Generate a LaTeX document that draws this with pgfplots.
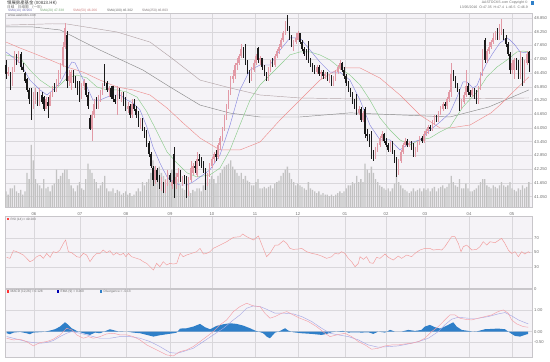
\documentclass[border=0pt]{standalone}
\usepackage{pgfplots}
\pgfplotsset{compat=1.18}
\usepackage{pgfplotstable}
\usepackage{fontspec}
\setmainfont{Liberation Sans}
\newfontfamily\cjk{Noto Sans CJK TC}
\definecolor{bgc}{HTML}{F5F3F7}
\definecolor{gridc}{HTML}{D9D7DB}
\definecolor{framec}{HTML}{C8C6CA}
\definecolor{upc}{HTML}{E29AA6}
\definecolor{dnc}{HTML}{1A1A1A}
\definecolor{volc}{HTML}{C2C2C2}
\definecolor{smaA}{HTML}{8A8AE0}
\definecolor{smaB}{HTML}{8CCC8C}
\definecolor{smaC}{HTML}{EE9090}
\definecolor{smaD}{HTML}{8C8C8C}
\definecolor{smaE}{HTML}{B4A6A8}
\definecolor{rsic}{HTML}{F29A9A}
\definecolor{macdc}{HTML}{F4A0A8}
\definecolor{sigc}{HTML}{A8A8E4}
\definecolor{divc}{HTML}{2F7FC8}
\definecolor{labc}{HTML}{6E6E6E}

\pgfplotstableread{
i o h l c v
1 46.4 46.7 46.3 46.5 8
3 45.9 46.7 45.9 46.6 12
4 46.6 47.4 46.5 47.1 14
6 47.0 47.4 46.9 47.25 9
13 45.0 45.6 44.9 45.4 30
14 45.4 45.8 45.1 45.5 18
16 45.1 45.8 45.0 45.6 14
19 44.9 45.4 44.9 45.3 12
21 45.0 45.6 45.0 45.5 10
22 45.5 45.9 45.4 45.8 14
24 45.7 46.2 45.6 46.1 24
25 46.1 46.6 45.9 46.4 18
26 46.4 46.9 46.2 46.8 20
27 46.8 47.8 46.7 47.6 22
28 47.6 48.65 47.5 48.4 24
30 46.1 46.6 45.9 46.3 18
31 46.0 46.6 45.7 46.5 14
36 45.3 46.0 45.3 45.9 12
37 45.9 46.2 45.7 46.1 11
41 44.0 44.8 43.5 44.6 22
42 44.6 45.3 44.5 45.1 18
44 45.0 45.5 44.9 45.4 12
45 45.4 45.7 45.2 45.6 14
46 45.6 46.0 45.5 45.9 16
49 45.7 45.9 45.4 45.8 10
53 44.9 45.9 44.6 45.6 11
55 45.4 45.6 45.2 45.5 8
58 44.9 45.2 44.7 45.0 8
60 44.6 45.3 44.5 45.1 7
64 44.3 44.5 44.0 44.4 10
71 41.8 42.4 41.6 42.2 26
74 41.5 41.9 41.3 41.7 22
76 41.3 41.8 41.2 41.7 18
77 41.7 42.2 41.5 42.0 22
79 41.5 41.8 41.4 41.7 24
81 41.6 42.1 41.4 41.9 22
82 41.9 42.3 41.7 42.1 18
84 41.7 41.95 41.5 41.9 12
87 41.2 41.9 41.1 41.8 10
88 41.8 42.6 41.7 42.3 9
89 42.1 42.5 42.0 42.4 11
91 42.0 43.0 41.9 42.7 12
96 41.6 42.1 41.5 42.0 16
97 42.0 42.5 41.9 42.4 18
98 42.4 42.8 42.3 42.7 20
99 42.7 43.0 42.5 42.9 18
101 42.8 43.4 42.7 43.3 20
102 43.3 43.7 43.1 43.6 22
103 43.6 44.1 43.5 44.0 24
104 44.0 44.6 43.9 44.5 26
105 44.5 45.1 44.4 45.0 27
106 45.0 45.7 44.9 45.6 28
107 45.6 46.3 45.5 46.2 30
108 46.2 46.6 46.0 46.3 26
109 46.3 46.9 46.2 46.8 24
110 46.8 47.1 46.6 46.9 22
111 46.9 47.3 46.8 47.2 20
112 47.2 47.7 47.1 47.5 22
117 46.2 46.7 46.1 46.6 14
118 46.6 47.0 46.5 46.9 14
119 46.9 47.3 46.8 47.2 16
121 47.0 47.2 46.8 47.1 12
125 46.2 46.7 46.1 46.6 13
126 46.6 47.0 46.5 46.9 14
128 46.8 47.3 46.7 47.2 15
129 47.2 47.5 47.1 47.4 16
130 47.4 47.7 47.3 47.6 17
131 47.6 48.0 47.5 47.9 20
132 47.9 48.3 47.8 48.2 22
133 48.2 48.7 48.1 48.6 24
137 47.5 47.9 47.4 47.8 16
138 47.8 48.2 47.7 48.0 14
139 47.9 48.3 47.9 48.2 15
148 46.5 46.8 46.4 46.7 9
150 46.4 46.6 46.2 46.5 8
152 46.3 46.5 46.2 46.4 8
154 46.2 46.4 46.0 46.3 7
156 46.0 46.3 45.9 46.2 7
157 46.2 46.6 46.1 46.5 8
158 46.5 46.8 46.4 46.7 9
159 46.7 47.0 46.6 46.9 10
168 44.7 45.0 44.6 44.9 16
170 44.4 44.8 44.3 44.7 16
176 42.8 43.2 42.7 43.1 18
177 43.1 43.4 43.0 43.3 16
178 43.3 43.7 43.2 43.6 14
179 43.6 43.9 43.5 43.8 13
183 43.1 43.5 43.0 43.4 10
187 42.1 42.7 42.0 42.6 16
188 42.6 43.1 42.5 43.0 14
189 43.0 43.4 42.9 43.3 12
190 43.3 43.6 43.2 43.5 11
192 43.3 43.5 43.2 43.4 9
195 42.9 43.2 42.8 43.1 10
196 43.1 43.5 43.0 43.4 11
197 43.4 43.7 43.3 43.6 12
199 43.5 43.9 43.4 43.8 12
200 43.8 44.0 43.7 43.9 11
201 43.9 44.2 43.8 44.1 12
203 44.0 44.4 43.9 44.3 12
204 44.3 44.6 44.2 44.5 13
206 44.4 44.8 44.3 44.7 12
207 44.7 45.0 44.6 44.9 13
208 44.9 45.2 44.8 45.1 14
210 45.0 45.4 44.9 45.3 13
211 45.3 45.7 45.2 45.6 15
212 45.6 46.9 45.4 46.4 20
217 45.0 45.3 44.9 45.2 12
218 45.2 45.6 45.1 45.5 12
219 45.5 46.6 45.4 45.9 15
222 45.5 45.8 45.4 45.7 10
225 45.2 45.9 45.1 45.8 14
226 45.8 46.5 45.7 46.4 16
227 46.4 47.5 46.3 47.4 18
229 47.0 47.5 46.9 47.4 14
230 47.4 47.8 47.3 47.6 13
231 47.6 47.9 47.5 47.8 12
232 47.8 48.2 47.7 48.0 14
233 48.0 48.3 47.9 48.2 13
235 48.0 48.6 47.9 48.5 14
236 48.2 48.8 48.1 48.7 16
241 46.6 47.0 46.4 46.9 12
242 46.6 47.1 46.2 47.0 11
245 46.3 47.4 46.2 47.1 11
247 46.1 47.0 46.0 46.9 12
248 46.9 47.4 46.8 47.3 13
}\uptab

\pgfplotstableread{
i o h l c v
0 46.8 47.0 46.2 46.4 10
2 46.45 46.5 45.7 45.9 12
5 47.1 47.3 46.8 47.0 10
7 47.3 47.35 46.6 46.7 11
8 46.7 46.9 46.5 46.6 8
9 46.45 46.5 46.0 46.1 10
10 46.2 46.25 45.6 45.7 22
11 45.7 45.8 45.1 45.3 18
12 45.3 45.8 44.4 45.0 40
15 45.5 45.6 45.0 45.1 15
17 45.5 45.6 45.1 45.2 12
18 45.4 45.45 44.8 44.9 18
20 45.2 45.4 44.5 45.0 13
23 45.8 46.0 45.6 45.7 15
29 48.1 48.3 45.8 46.1 24
32 46.5 46.6 46.0 46.1 12
33 46.1 46.3 45.8 46.0 10
34 46.0 46.1 45.5 45.6 14
35 46.0 46.1 45.2 45.3 16
38 46.0 46.0 45.4 45.5 18
39 45.5 45.6 44.9 45.0 28
40 44.5 44.6 43.95 44.0 24
43 45.1 45.4 44.9 45.0 16
47 46.8 46.85 45.9 46.0 20
48 46.0 46.1 45.6 45.7 12
50 45.8 45.9 45.3 45.4 10
51 45.9 45.9 45.2 45.3 12
52 45.3 45.5 45.1 45.2 9
54 45.6 45.8 45.3 45.4 10
56 45.5 45.6 45.0 45.1 9
57 45.4 45.4 44.8 44.9 10
59 45.0 45.1 44.5 44.6 9
61 45.1 45.3 44.8 44.9 8
62 44.9 45.0 44.5 44.6 10
63 44.7 44.8 44.1 44.3 12
65 44.4 44.5 43.9 44.0 16
66 44.0 44.1 43.6 43.8 14
67 43.9 43.95 43.2 43.3 16
68 43.4 43.5 42.8 42.9 18
69 42.9 43.0 42.3 42.4 22
70 42.3 42.4 41.5 41.8 30
72 42.2 42.3 41.7 41.8 20
73 41.9 42.0 41.4 41.5 26
75 41.6 41.7 41.2 41.3 20
78 42.0 42.1 41.7 41.8 20
80 42.9 43.2 41.0 41.6 30
83 42.1 42.2 41.7 41.8 14
85 41.9 42.0 41.6 41.8 11
86 41.9 41.95 41.0 41.2 14
90 42.4 42.6 42.1 42.3 10
92 42.7 42.9 42.4 42.6 12
93 42.6 42.8 42.3 42.4 10
94 42.4 42.6 42.1 42.2 14
95 42.2 42.3 41.35 41.6 18
100 42.9 43.1 42.6 42.8 15
113 47.5 47.6 47.1 47.3 18
114 47.6 47.7 46.8 46.9 20
115 46.9 47.0 46.4 46.5 17
116 46.5 46.6 46.0 46.2 16
120 47.55 47.6 46.9 47.0 18
122 47.1 47.1 46.6 46.7 12
123 46.7 46.8 46.3 46.4 13
124 46.4 46.5 46.1 46.2 12
127 46.9 47.1 46.7 46.8 12
134 48.6 49.0 48.3 48.4 26
135 48.4 48.5 47.9 48.0 22
136 48.0 48.1 47.6 47.7 18
140 48.2 48.2 47.7 47.8 14
141 47.8 47.9 47.4 47.5 13
142 47.5 47.6 47.2 47.3 12
143 47.3 47.5 47.0 47.2 11
144 47.8 47.85 46.9 47.0 16
145 47.0 47.1 46.7 46.8 12
146 46.8 46.9 46.5 46.6 11
147 46.6 46.8 46.4 46.5 10
149 46.7 46.8 46.3 46.4 10
151 46.5 46.6 46.2 46.3 9
153 46.4 46.5 46.1 46.2 8
155 46.3 46.35 45.9 46.0 8
160 46.9 46.95 46.5 46.6 9
161 46.6 46.7 46.2 46.3 10
162 46.3 46.4 45.9 46.0 12
163 46.0 46.1 45.6 45.7 14
164 45.7 45.8 45.4 45.5 14
165 45.5 45.6 45.1 45.2 16
166 45.2 45.3 44.9 45.0 15
167 45.5 45.55 44.6 44.7 20
169 44.9 44.95 44.3 44.4 18
171 44.9 44.95 43.6 43.8 28
172 43.8 44.0 43.5 43.7 24
173 43.7 43.8 43.2 43.3 22
174 43.9 43.9 42.7 42.9 26
175 42.9 43.1 42.6 42.8 22
180 43.8 43.85 43.4 43.5 12
181 43.5 43.6 43.2 43.3 11
182 43.3 43.4 43.0 43.1 12
184 43.4 43.5 42.9 43.0 12
185 43.0 43.1 42.5 42.6 15
186 42.6 42.8 41.9 42.1 20
191 43.5 43.55 43.2 43.3 10
193 43.4 43.5 43.1 43.2 10
194 43.4 43.4 42.8 42.9 12
198 43.6 43.7 43.4 43.5 10
202 44.1 44.2 43.9 44.0 10
205 44.5 44.6 44.3 44.4 10
209 45.1 45.2 44.9 45.0 12
213 46.4 46.6 46.1 46.2 16
214 46.2 46.3 45.8 45.9 14
215 45.9 46.0 45.6 45.7 13
216 45.7 45.75 44.8 45.0 18
220 45.9 46.0 45.5 45.6 12
221 45.6 45.7 45.4 45.5 10
223 45.7 45.8 45.3 45.4 11
224 45.7 45.7 45.1 45.2 12
228 47.9 48.0 46.9 47.0 18
234 48.2 48.4 47.9 48.0 12
237 48.3 48.35 47.9 48.0 14
238 48.0 48.1 47.6 47.7 13
239 47.7 47.8 47.2 47.3 14
240 47.3 47.35 46.4 46.6 16
243 47.0 47.1 46.6 46.7 10
244 46.9 47.0 46.2 46.3 12
246 47.1 47.15 45.9 46.1 14
249 47.35 47.4 46.5 46.9 16
}\downtab

\pgfplotsset{
  panel/.style={scale only axis, anchor=south west, width=527bp,
    xmin=-0.48, xmax=250.5,
    axis line style={draw=framec, line width=0.5bp},
    xtick={13.3,35.2,57.1,78.1,98.1,118.6,139.0,161.4,181.0,199.5,220.5,240.9},
    major tick length=0pt,
    xmajorgrids, ymajorgrids, grid style={draw=gridc, line width=0.45bp},
    yticklabel pos=right,
    tick label style={font=\fontsize{4.2}{5}\selectfont, text=labc},
    yticklabel style={anchor=west, inner sep=0.5bp, xshift=1.5bp},
    /pgf/number format/assume math mode=true},
  layer/.style={scale only axis, anchor=south west, width=527bp,
    xmin=-0.48, xmax=250.5, hide axis, clip=true},
  wick/.style={draw=none, mark=none, forget plot, error bars/.cd, y dir=both, y explicit,
    error mark=none, error bar style={draw=#1, line width=0.4bp, solid}},
  body/.style={draw=none, mark=none, forget plot, error bars/.cd, y dir=both, y explicit,
    error mark=none, error bar style={draw=#1, line width=1.4bp, solid}},
}

\begin{document}
\begin{tikzpicture}
\useasboundingbox (0bp,0bp) rectangle (550bp,362bp);

% ---------- main panel frame ----------
\begin{axis}[panel, at={(5bp,155bp)}, height=194bp, ymin=40.6, ymax=49.07,
  axis background/.style={fill=bgc},
  xticklabels={06,07,08,09,10,11,12,01,02,03,04,05},
  xticklabel style={yshift=-2.5bp},
  ytick={41.05,41.65,42.25,42.85,43.45,44.05,44.65,45.25,45.85,46.45,47.05,47.65,48.25,48.85},
  yticklabels={41.050,41.650,42.250,42.850,43.450,44.050,44.650,45.250,45.850,46.450,47.050,47.650,48.250,48.850}]
\addplot[draw=none, forget plot] coordinates {(0,45)};
\end{axis}

% ---------- volume ----------
\begin{axis}[layer, at={(5bp,155bp)}, height=194bp, ymin=0, ymax=125]
\addplot[ybar, bar shift=0pt, bar width=1.3bp, fill=volc, draw=none] table[x=i,y=v]{\uptab};
\addplot[ybar, bar shift=0pt, bar width=1.3bp, fill=volc, draw=none] table[x=i,y=v]{\downtab};
\end{axis}

% ---------- price: moving averages + candles ----------
\begin{axis}[layer, at={(5bp,155bp)}, height=194bp, ymin=40.6, ymax=49.07]
\addplot[smaE, line width=0.45bp] coordinates {(0,48.54)(22,48.60)(29,48.59)(52.9,48.24)(68.6,47.80)(79.5,47.06)(92.4,46.14)(106.7,45.80)(121,45.49)(140,45.36)(163.8,45.32)(187.6,45.32)(211.4,45.32)(249,45.36)};
\addplot[smaD, line width=0.45bp] coordinates {(0,48.46)(12.9,48.46)(25.7,48.33)(44.8,47.45)(65.2,46.58)(78.1,45.84)(92.4,45.05)(106.7,44.70)(121,44.53)(140,44.53)(163.8,44.71)(187.6,44.62)(211.4,44.53)(230,44.97)(249,45.71)};
\addplot[smaC, line width=0.45bp] coordinates {(0,47.80)(6.7,47.54)(12.9,47.32)(21,47.02)(29,46.71)(36.7,46.49)(44.8,46.14)(52.9,45.84)(60.5,45.71)(68.6,45.49)(76.7,44.92)(84.3,44.27)(92.4,43.61)(101.9,43.09)(111.4,43.09)(121,43.44)(130.5,44.40)(140,45.27)(149.5,46.14)(159,46.67)(168.6,46.67)(178.1,46.23)(187.6,45.49)(197.1,44.62)(206.7,44.05)(211.4,44.05)(221,44.18)(231,44.71)(235.2,45.05)(240,45.49)(249,46.28)};
\addplot[smaB, line width=0.45bp] coordinates {(0,47.24)(6.7,47.10)(11.4,46.58)(16.2,46.14)(21,45.84)(24.3,45.80)(29,46.23)(33.8,46.36)(38.6,46.23)(43.3,45.84)(48.1,45.71)(52.9,45.71)(57.6,45.62)(62.4,45.40)(67.1,44.75)(71.9,43.88)(76.7,43.00)(81.4,42.52)(86.2,42.09)(91,41.91)(97.1,42.00)(101.9,42.30)(106.7,43.09)(111.4,44.18)(116.2,45.27)(121,45.93)(125.7,46.36)(130.5,46.80)(135.2,47.24)(140,47.37)(144.8,47.37)(149.5,47.24)(154.3,47.02)(159,46.67)(163.8,46.36)(168.6,45.93)(173.3,45.27)(178.1,44.49)(182.9,43.96)(187.6,43.53)(192.4,43.31)(197.1,43.53)(201.9,43.61)(206.7,43.88)(211.4,44.09)(217.6,44.97)(224.3,45.62)(229,46.28)(233.8,46.71)(238.6,47.02)(243.3,47.37)(246.2,47.41)(249,47.37)};
\addplot[smaA, line width=0.45bp] coordinates {(0,47.37)(6.7,46.89)(11.4,46.14)(16.2,45.71)(19.5,45.49)(22.4,45.71)(25.7,46.01)(29,46.58)(31.4,46.93)(32.9,46.89)(35.2,46.45)(38.6,45.84)(41.4,45.27)(44.8,45.27)(48.1,45.40)(51,45.49)(54.3,45.49)(57.6,45.27)(60.5,45.14)(63.8,44.84)(67.1,44.09)(70,43.22)(73.3,42.52)(76.7,41.91)(79.5,41.69)(82.9,41.56)(86.2,41.56)(89,41.69)(92.4,41.91)(97.1,42.22)(101.9,42.87)(106.7,44.18)(111.4,45.71)(116.2,46.58)(121,46.80)(125.7,46.80)(130.5,47.45)(135.2,47.98)(140,47.98)(144.8,47.45)(149.5,46.93)(154.3,46.49)(159,46.49)(163.8,46.14)(168.6,45.27)(173.3,44.18)(178.1,43.53)(182.9,43.53)(187.6,43.09)(192.4,43.40)(197.1,43.53)(201.9,43.96)(206.7,44.31)(211.4,44.71)(214.8,45.40)(217.6,46.06)(219.5,46.06)(222.4,45.80)(224.3,45.90)(226.7,46.45)(229,46.89)(231.9,47.32)(235.2,47.76)(238.6,47.98)(240,47.89)(242.4,47.67)(244.8,47.37)(249,47.32)};
\addplot[wick=upc] table[x=i, y expr=(\thisrow{h}+\thisrow{l})/2, y error expr=(\thisrow{h}-\thisrow{l})/2]{\uptab};
\addplot[body=upc] table[x=i, y expr=(\thisrow{o}+\thisrow{c})/2, y error expr=(\thisrow{c}-\thisrow{o})/2]{\uptab};
\addplot[wick=dnc] table[x=i, y expr=(\thisrow{h}+\thisrow{l})/2, y error expr=(\thisrow{h}-\thisrow{l})/2]{\downtab};
\addplot[body=dnc] table[x=i, y expr=(\thisrow{o}+\thisrow{c})/2, y error expr=(\thisrow{o}-\thisrow{c})/2]{\downtab};
\end{axis}

% ---------- RSI ----------
\begin{axis}[panel, at={(5bp,73.25bp)}, height=72.5bp, ymin=0, ymax=100,
  axis background/.style={fill=bgc},
  xticklabels={}, ytick={0,30,50,70}, yticklabels={0,30,50,70}]
\addplot[rsic, line width=0.45bp] coordinates {(0.3,43.3)(1.9,41.9)(3.5,52.5)(5.1,51.1)(6.7,48.8)(8.3,46.5)(11.4,37.3)(13.0,39.6)(14.6,44.2)(16.2,46.5)(17.8,41.9)(19.4,48.8)(21.0,43.3)(22.5,51.1)(24.1,49.7)(25.7,53.4)(27.3,62.6)(28.4,67.2)(29.7,51.1)(31.3,49.7)(33.7,44.2)(35.2,43.3)(36.8,48.8)(38.4,46.5)(40.0,37.3)(41.6,44.2)(43.2,48.8)(44.8,48.8)(46.3,53.4)(47.9,49.7)(49.5,52.5)(51.1,46.5)(52.7,49.7)(54.3,46.5)(55.9,48.8)(57.1,44.2)(58.3,48.8)(59.8,44.2)(62.2,41.9)(63.8,40.5)(65.4,37.3)(67.0,35.0)(68.6,30.4)(70.2,25.8)(71.7,35.0)(73.3,30.4)(74.9,37.3)(76.5,32.7)(78.1,35.0)(79.7,34.1)(81.3,35.0)(82.9,48.8)(84.4,44.2)(86.0,46.5)(88.4,48.8)(90.8,51.1)(92.4,55.7)(94.0,47.9)(95.6,48.8)(97.1,51.1)(98.7,55.7)(101.9,60.3)(105.1,64.9)(108.3,70.9)(111.4,71.8)(112.7,75.5)(114.6,71.8)(117.8,67.2)(120.2,72.7)(122.5,55.7)(124.1,44.2)(125.7,48.8)(128.1,60.0)(129.7,60.3)(132.1,66.3)(133.7,62.6)(135.2,55.7)(136.8,54.3)(139.2,54.8)(140.8,55.7)(143.2,51.1)(145.6,48.8)(148.0,47.4)(150.3,45.1)(152.7,41.9)(155.1,44.2)(156.7,48.8)(158.3,47.9)(159.8,51.1)(161.4,48.8)(163.0,41.9)(164.6,37.3)(166.2,30.4)(167.8,35.0)(168.6,44.2)(170.2,40.5)(171.7,44.2)(173.3,35.9)(174.9,35.0)(176.5,43.3)(178.1,41.9)(180.5,47.9)(182.1,43.3)(184.4,39.6)(186.8,45.1)(188.4,41.9)(190.8,46.5)(193.2,44.2)(194.8,48.8)(197.1,53.4)(199.5,55.7)(201.9,55.7)(203.5,53.4)(205.9,54.3)(207.5,53.4)(209.0,58.0)(210.6,64.9)(212.2,71.8)(213.8,71.8)(215.4,62.6)(216.7,51.1)(217.8,58.0)(219.4,60.3)(221.8,53.4)(224.1,54.3)(225.7,58.0)(227.3,64.9)(228.9,60.3)(230.5,64.9)(232.9,63.5)(236.0,69.5)(237.6,62.6)(239.2,53.4)(240.8,48.8)(242.4,51.1)(244.0,44.2)(245.6,51.1)(247.1,47.9)(248.7,51.1)(249.5,49.7)};
\end{axis}

% ---------- MACD ----------
\begin{axis}[panel, at={(5bp,5bp)}, height=68.25bp, ymin=-1.17, ymax=1.975,
  axis background/.style={fill=bgc},
  xticklabels={}, ytick={-0.5,0,1}, yticklabels={-0.50,0.00,1.00}]
\addplot[fill=divc, draw=none] coordinates {(0.3,0)(0.3,-0.075)(1.9,-0.121)(3.5,-0.045)(6.7,-0.014)(9.8,-0.075)(11.4,-0.121)(13.0,-0.045)(17.8,-0.014)(20.9,0.048)(23.3,0.109)(25.7,0.232)(28.1,0.431)(29.7,0.309)(31.3,0.155)(33.7,0.032)(36.8,-0.075)(40.0,-0.152)(42.4,-0.045)(44.8,-0.075)(47.9,0.048)(49.5,0.109)(51.9,0.048)(54.3,-0.014)(57.5,0.002)(60.6,-0.045)(63.8,-0.075)(67.0,-0.152)(70.2,-0.229)(73.3,-0.168)(76.5,-0.121)(79.7,-0.075)(81.3,-0.045)(82.9,0.140)(86.0,0.155)(89.2,0.232)(92.4,0.355)(94.8,0.201)(97.2,0.109)(100.3,0.263)(103.5,0.339)(106.7,0.385)(109.8,0.355)(113.0,0.278)(116.2,0.155)(118.6,0.048)(120.2,0.002)(122.5,-0.075)(124.1,-0.229)(125.7,-0.306)(128.1,-0.05)(130.5,0.032)(132.9,0.155)(134.4,0.048)(136.8,-0.029)(140.8,-0.075)(145.6,-0.106)(150.3,-0.152)(152.7,-0.106)(155.1,-0.029)(157.5,0.002)(160.6,0.032)(163.0,-0.045)(166.2,-0.029)(169.4,-0.045)(172.5,-0.029)(174.9,-0.106)(177.3,0.002)(180.5,-0.045)(182.9,0.078)(185.2,0.002)(188.4,0.002)(191.6,0.078)(194.8,0.032)(197.9,0.078)(199.5,0.232)(201.9,0.309)(204.3,0.201)(206.7,0.140)(208.3,0.201)(210.6,0.309)(213.0,0.431)(214.6,0.232)(217.0,0.078)(220.2,0.032)(223.3,-0.014)(225.7,0.048)(228.1,0.109)(231.3,0.124)(234.4,0.140)(237.6,0.109)(239.2,0.002)(240.8,-0.106)(242.4,-0.198)(244.8,-0.229)(247.1,-0.152)(248.7,-0.106)(248.7,0)} \closedcycle;
\addplot[sigc, line width=0.45bp] coordinates {(0.3,-0.229)(3.5,-0.306)(6.7,-0.383)(9.8,-0.459)(13.0,-0.505)(16.2,-0.536)(19.4,-0.505)(22.5,-0.413)(25.7,-0.229)(28.9,-0.075)(31.3,0.0)(35.2,-0.075)(38.4,-0.152)(41.6,-0.229)(44.8,-0.306)(49.5,-0.306)(54.3,-0.229)(59.0,-0.229)(63.8,-0.306)(68.6,-0.459)(73.3,-0.690)(78.1,-0.966)(81.3,-0.997)(84.4,-0.920)(89.2,-0.767)(94.0,-0.459)(98.7,-0.152)(103.5,0.155)(108.3,0.539)(111.4,0.769)(114.6,1.077)(117.8,1.184)(121.0,1.153)(124.1,1.030)(128.1,0.85)(132.9,0.846)(136.8,0.816)(140.8,0.693)(145.6,0.462)(150.3,0.155)(154.3,-0.075)(158.3,-0.152)(163.0,-0.229)(167.8,-0.383)(172.5,-0.613)(177.3,-0.721)(182.1,-0.690)(186.8,-0.659)(191.6,-0.567)(196.4,-0.459)(201.1,-0.306)(205.9,0.002)(209.0,0.309)(212.2,0.570)(215.4,0.662)(220.2,0.616)(224.9,0.616)(229.7,0.693)(234.4,0.816)(237.6,0.877)(240.8,0.724)(244.0,0.539)(247.1,0.416)(248.7,0.355)};
\addplot[macdc, line width=0.45bp] coordinates {(0.3,-0.306)(3.5,-0.383)(6.7,-0.352)(9.8,-0.459)(13.0,-0.659)(16.2,-0.505)(19.4,-0.459)(22.5,-0.352)(25.7,-0.152)(28.9,0.155)(31.3,0.078)(33.7,-0.152)(36.8,-0.306)(39.2,-0.229)(41.6,-0.306)(44.8,-0.229)(47.9,-0.106)(51.1,-0.075)(54.3,-0.152)(57.5,-0.152)(60.6,-0.229)(63.8,-0.383)(67.0,-0.613)(70.2,-0.767)(73.3,-0.920)(76.5,-1.074)(79.7,-1.120)(82.9,-0.920)(86.0,-0.844)(89.2,-0.690)(92.4,-0.459)(95.6,-0.229)(98.7,0.002)(101.9,0.309)(105.1,0.539)(108.3,0.923)(111.4,1.153)(114.6,1.307)(117.8,1.184)(121.0,1.153)(123.3,0.846)(125.7,0.616)(128.1,0.693)(131.3,0.846)(133.7,0.923)(136.8,0.769)(140.0,0.616)(144.0,0.462)(147.9,0.232)(151.9,-0.075)(154.3,-0.229)(157.5,-0.152)(161.4,-0.075)(164.6,-0.229)(167.8,-0.459)(171.0,-0.613)(174.1,-0.813)(177.3,-0.767)(180.5,-0.659)(183.7,-0.613)(186.8,-0.613)(190.0,-0.567)(193.2,-0.536)(196.4,-0.459)(199.5,-0.306)(202.7,0.002)(205.9,0.232)(209.0,0.539)(211.4,0.769)(213.8,0.769)(216.2,0.616)(218.6,0.570)(221.8,0.539)(224.9,0.616)(228.1,0.693)(231.3,0.769)(234.4,0.923)(236.8,1.000)(239.2,0.846)(240.8,0.539)(243.2,0.355)(246.3,0.232)(248.7,0.201)};
\end{axis}

% ---------- texts ----------
\node[anchor=west, inner sep=0, text=black!80] at (7bp,359bp) {\fontsize{4.4}{5}\selectfont\cjk 領展房產基金 (00823.HK)};
\node[anchor=west, inner sep=0, text=labc] at (7bp,354.5bp) {\fontsize{3.6}{4}\selectfont\cjk 日線　日線圖　(一年)};
\begin{scope}[every node/.style={anchor=west, inner sep=0, font=\fontsize{3.3}{4}\selectfont}]
\node[text=smaA!80!black] at (8bp,351.3bp) {SMA(10) 46.960};
\node[text=smaB!80!black] at (40bp,351.3bp) {SMA(20) 47.338};
\node[text=smaC!85!black] at (73bp,351.3bp) {SMA(50) 46.266};
\node[text=smaD!70!black] at (107bp,351.3bp) {SMA(100) 46.302};
\node[text=smaE!70!black] at (142bp,351.3bp) {SMA(250) 46.803};
\node[text=labc] at (8bp,346.5bp) {www.aastocks.com};
\end{scope}
\node[anchor=east, inner sep=0, text=labc] at (528bp,359.5bp) {\fontsize{3.5}{4}\selectfont AASTOCKS.com Copyright \textcopyright};
\node[anchor=east, inner sep=0, text=labc] at (528bp,355bp) {\fontsize{3.5}{4}\selectfont 13/05/2016\ \ O:47.35\ \ H:47.4\ \ L:46.5\ \ C:46.9};
\fill[divc] (531bp,357bp) rectangle ++(3bp,4bp);
\fill[red!75] (7bp,141.5bp) rectangle ++(2.2bp,2.2bp);
\node[anchor=west, inner sep=0, text=labc, font=\fontsize{3.2}{4}\selectfont] at (10.5bp,142.6bp) {RSI (14) = 49.283};
\fill[red!80] (7bp,69.4bp) rectangle ++(2.2bp,2.2bp);
\node[anchor=west, inner sep=0, text=labc, font=\fontsize{3.2}{4}\selectfont] at (10.5bp,70.5bp) {MACD (12,26) = 0.128};
\fill[blue!70!black] (57bp,69.4bp) rectangle ++(2.2bp,2.2bp);
\node[anchor=west, inner sep=0, text=labc, font=\fontsize{3.2}{4}\selectfont] at (60.5bp,70.5bp) {EMA (9) = 0.260};
\fill[divc] (100bp,69.4bp) rectangle ++(2.2bp,2.2bp);
\node[anchor=west, inner sep=0, text=labc, font=\fontsize{3.2}{4}\selectfont] at (103.5bp,70.5bp) {Divergence = -0.13};
\end{tikzpicture}
\end{document}
